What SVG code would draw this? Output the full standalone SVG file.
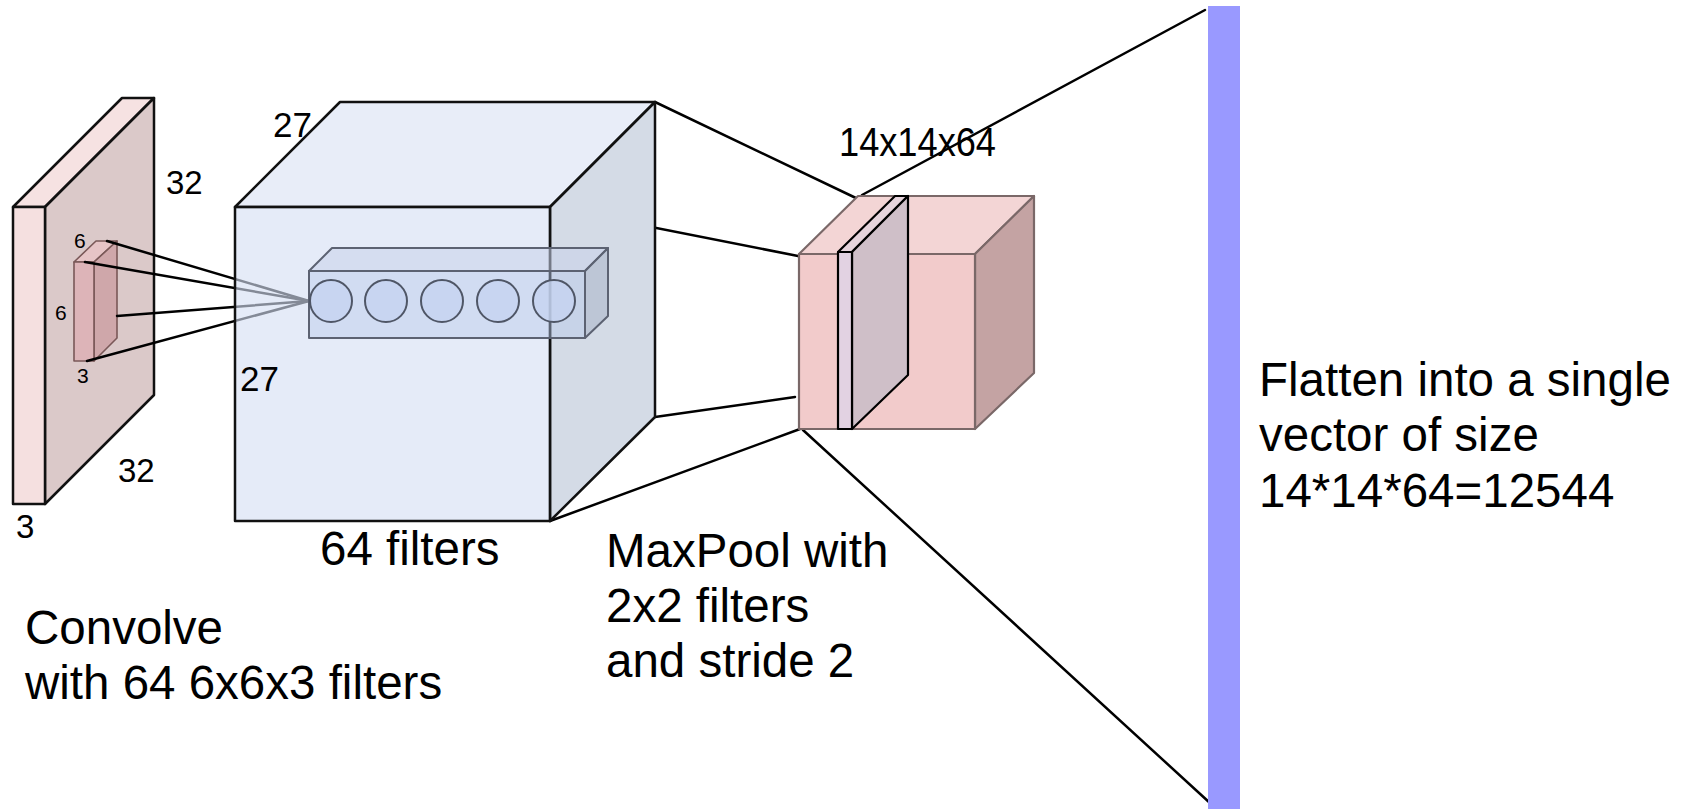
<svg xmlns="http://www.w3.org/2000/svg" width="1683" height="809" viewBox="0 0 1683 809">
  <style>
    text { font-family: "Liberation Sans", Arial, Helvetica, sans-serif; fill: #000; }
    .dim { font-size: 33px; }
    .dim-sm { font-size: 21px; }
    .caption { font-size: 47.5px; }
    .edge-dark { stroke: #111; stroke-width: 2.5; stroke-linejoin: round; }
    .edge-rose { stroke: #7a6868; stroke-width: 2.2; stroke-linejoin: round; }
    .edge-kernel { stroke: #7a5858; stroke-width: 1.6; stroke-linejoin: round; }
    .edge-bar { stroke: #5c6272; stroke-width: 2; stroke-linejoin: round; }
    .edge-slice { stroke: #000; stroke-width: 2.2; stroke-linejoin: round; }
    .conn line { stroke: #000; stroke-width: 2.5; stroke-linecap: round; }
    .neuron { fill: #c6d3f0; fill-opacity: 0.8; stroke: #4f5666; stroke-width: 2; }
  </style>

  <rect width="1683" height="809" fill="#fff"/>

  <!-- 32x32x3 input volume with a 6x6x3 kernel -->
  <g id="input-volume">
    <polygon class="edge-dark" fill="#f6e2e2" points="13,207 45,207 154,98 122,98"/>
    <polygon class="edge-dark" fill="#dbc9c9" points="45,207 154,98 154,395 45,504"/>
    <rect class="edge-dark" fill="#f5e0e0" x="13" y="207" width="32" height="297"/>
    <g id="kernel">
      <polygon class="edge-kernel" fill="#e6c4c6" points="74,262 94,262 117,241 96,241"/>
      <polygon class="edge-kernel" fill="#cfa7aa" points="94,262 117,241 117,338 94,361"/>
      <rect class="edge-kernel" fill="#ddb4b8" x="74" y="262" width="20" height="99"/>
    </g>
    <text class="dim" x="166" y="194">32</text>
    <text class="dim" x="118" y="482">32</text>
    <text class="dim" x="16" y="538">3</text>
    <text class="dim-sm" x="74" y="248">6</text>
    <text class="dim-sm" x="55" y="320">6</text>
    <text class="dim-sm" x="77" y="383">3</text>
  </g>

  <!-- connectors between the stages -->
  <g id="connectors" class="conn">
    <line x1="107" y1="241" x2="309" y2="301"/>
    <line x1="85" y1="262" x2="309" y2="301"/>
    <line x1="117" y1="316" x2="309" y2="301"/>
    <line x1="87" y1="361" x2="309" y2="301"/>
    <line x1="655" y1="102" x2="858" y2="199"/>
    <line x1="550" y1="207" x2="803" y2="257"/>
    <line x1="655" y1="417" x2="795" y2="397"/>
    <line x1="550" y1="521" x2="800" y2="429"/>
    <line x1="862" y1="195" x2="1205" y2="10"/>
    <line x1="803" y1="430" x2="1210" y2="803"/>
  </g>

  <!-- 27x27x64 convolution output -->
  <g id="conv-volume">
    <polygon class="edge-dark" fill="#e8edf8" points="235,207 550,207 655,102 340,102"/>
    <polygon class="edge-dark" fill="#d4dbe6" points="550,207 655,102 655,417 550,521"/>
    <rect class="edge-dark" fill="#d5dff3" fill-opacity="0.62" x="235" y="207" width="315" height="314"/>
    <g id="depth-column">
      <polygon class="edge-bar" fill="#c8d2ea" fill-opacity="0.55" points="309,271 585,271 608,248 332,248"/>
      <polygon class="edge-bar" fill="#a9b4c8" fill-opacity="0.55" points="585,271 608,248 608,316 585,338"/>
      <rect class="edge-bar" fill="#b9c9ea" fill-opacity="0.45" x="309" y="271" width="276" height="67"/>
      <circle class="neuron" cx="331" cy="301" r="21"/>
      <circle class="neuron" cx="386" cy="301" r="21"/>
      <circle class="neuron" cx="442" cy="301" r="21"/>
      <circle class="neuron" cx="498" cy="301" r="21"/>
      <circle class="neuron" cx="554" cy="301" r="21"/>
    </g>
    <text x="273" y="137" font-size="35">27</text>
    <text x="240" y="391" font-size="35">27</text>
    <text class="caption" x="320" y="565">64 filters</text>
  </g>

  <!-- 14x14x64 pooled volume with one depth slice -->
  <g id="pooled-volume">
    <polygon class="edge-rose" fill="#f3d5d5" points="799,254 975,254 1034,196 858,196"/>
    <polygon class="edge-rose" fill="#c4a3a3" points="975,254 1034,196 1034,373 975,429"/>
    <rect class="edge-rose" fill="#f2cbcb" x="799" y="254" width="176" height="175"/>
    <g id="depth-slice">
      <polygon class="edge-slice" fill="#e6d4dc" points="838,252 852,252 908,196 895,196"/>
      <polygon class="edge-slice" fill="#cfbfc8" points="852,252 908,196 908,375 852,429"/>
      <rect class="edge-slice" fill="#e2d2e2" x="838" y="252" width="14" height="177"/>
    </g>
    <text x="839" y="156" font-size="40" textLength="157" lengthAdjust="spacingAndGlyphs">14x14x64</text>
  </g>

  <!-- flattened vector -->
  <g id="flat-vector">
    <rect x="1208" y="6" width="32" height="803" fill="#9999ff"/>
    <text class="caption" x="1259" y="396">Flatten into a single</text>
    <text class="caption" x="1259" y="451">vector of size</text>
    <text class="caption" x="1259" y="507">14*14*64=12544</text>
  </g>

  <!-- step descriptions -->
  <g id="conv-caption">
    <text class="caption" x="25" y="644">Convolve</text>
    <text class="caption" x="25" y="699">with 64 6x6x3 filters</text>
  </g>
  <g id="pool-caption">
    <text class="caption" x="606" y="567">MaxPool with</text>
    <text class="caption" x="606" y="622">2x2 filters</text>
    <text class="caption" x="606" y="677">and stride 2</text>
  </g>
</svg>
